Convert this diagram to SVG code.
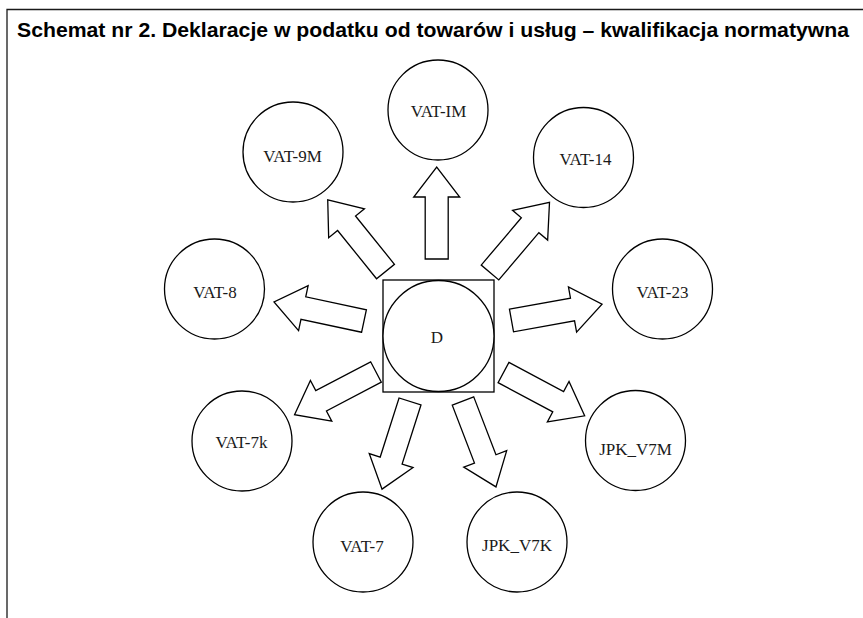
<svg xmlns="http://www.w3.org/2000/svg" xmlns:xlink="http://www.w3.org/1999/xlink" width="863" height="618" viewBox="0 0 863 618">
<style>
.frame{fill:none;stroke:#1a1a1a;stroke-width:1.3}
.title{font-family:"Liberation Sans",Arial,sans-serif;font-weight:bold;font-size:20px;fill:#000}
.node circle{fill:#fff;stroke:#000;stroke-width:1.3}
.node rect{fill:#fff;stroke:#000;stroke-width:1.3}
.node text{font-family:"Liberation Serif","Times New Roman",serif;font-size:17px;fill:#1a1a1a;text-anchor:middle}
.arrow{fill:#fff;stroke:#000;stroke-width:1.3;stroke-linejoin:miter}
</style>
<defs>
<polygon id="arr" points="0,-11.5 62,-11.5 62,-23 92,0 62,23 62,11.5 0,11.5"/>
</defs>
<rect width="863" height="618" fill="#fff"/>
<path class="frame" d="M7,618 V9.5 H863"/>
<text class="title" x="17" y="37" textLength="832" lengthAdjust="spacingAndGlyphs">Schemat nr 2. Deklaracje w podatku od towarów i usług – kwalifikacja normatywna</text>

<g id="connectors" class="arrow">
<use xlink:href="#arr" transform="translate(436.7,259) rotate(-90)"/>
<use xlink:href="#arr" transform="translate(385.5,271.5) rotate(-128.9)"/>
<use xlink:href="#arr" transform="translate(490,272.5) rotate(-49.7)"/>
<use xlink:href="#arr" transform="translate(364,321) rotate(-168)"/>
<use xlink:href="#arr" transform="translate(511.5,320.5) rotate(-10.2)"/>
<use xlink:href="#arr" transform="translate(376,372) rotate(152.3)"/>
<use xlink:href="#arr" transform="translate(410,401.5) rotate(107.7)"/>
<use xlink:href="#arr" transform="translate(463,401) rotate(69)"/>
<use xlink:href="#arr" transform="translate(503.5,372.5) rotate(28.1)"/>
</g>

<g id="node-D" class="node">
<rect x="383" y="280" width="111" height="112"/>
<circle cx="438.5" cy="336" r="55.5"/>
<text x="437" y="343">D</text>
</g>
<g id="node-VAT-IM" class="node">
<circle cx="438" cy="110" r="50"/>
<text x="438.5" y="117">VAT-IM</text>
</g>
<g id="node-VAT-9M" class="node">
<circle cx="293" cy="152" r="50"/>
<text x="292.5" y="162">VAT-9M</text>
</g>
<g id="node-VAT-14" class="node">
<circle cx="583.5" cy="157.5" r="50"/>
<text x="585.5" y="165">VAT-14</text>
</g>
<g id="node-VAT-8" class="node">
<circle cx="214.5" cy="289" r="50"/>
<text x="215" y="298">VAT-8</text>
</g>
<g id="node-VAT-23" class="node">
<circle cx="662.5" cy="289" r="50"/>
<text x="662.5" y="298">VAT-23</text>
</g>
<g id="node-VAT-7k" class="node">
<circle cx="242" cy="441" r="50"/>
<text x="241.5" y="448">VAT-7k</text>
</g>
<g id="node-VAT-7" class="node">
<circle cx="363" cy="542" r="50"/>
<text x="362" y="552">VAT-7</text>
</g>
<g id="node-JPK_V7K" class="node">
<circle cx="517" cy="542" r="50"/>
<text x="517" y="551">JPK_V7K</text>
</g>
<g id="node-JPK_V7M" class="node">
<circle cx="635.5" cy="440.5" r="50"/>
<text x="635.5" y="455">JPK_V7M</text>
</g>
</svg>
